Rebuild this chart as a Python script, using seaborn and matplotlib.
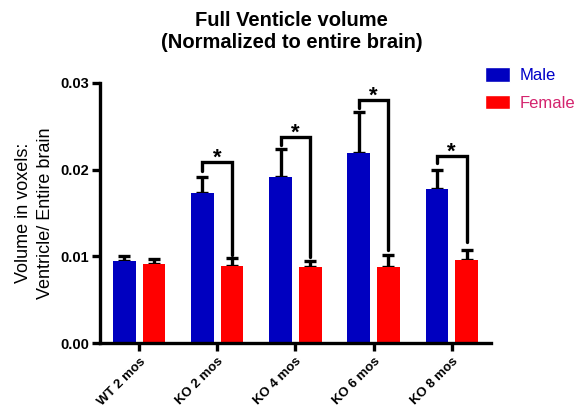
import matplotlib
matplotlib.use("Agg")
import matplotlib.pyplot as plt
import seaborn as sns
import pandas as pd
import numpy as np
from matplotlib.patches import Patch

categories = ["WT 2 mos", "KO 2 mos", "KO 4 mos", "KO 6 mos", "KO 8 mos"]
male_mean = [0.00942, 0.01734, 0.01919, 0.02188, 0.01773]
male_err = [0.00065, 0.00177, 0.00323, 0.00473, 0.00227]
female_mean = [0.00911, 0.00884, 0.00877, 0.00877, 0.00961]
female_err = [0.00058, 0.00096, 0.00065, 0.00142, 0.00112]
# significance brackets (category index, top height, left-leg bottom, right-leg bottom)
sig_idx = [1, 2, 3, 4]
sig_top = [0.02084, 0.02377, 0.02807, 0.02153]
sig_left = [0.0198, 0.02288, 0.02711, 0.02077]
sig_right = [0.01019, 0.00992, 0.01077, 0.01161]
yticks = [0.00, 0.01, 0.02, 0.03]

sns.set_style("ticks", {"axes.edgecolor": "black", "text.color": "black",
                        "axes.labelcolor": "black", "xtick.color": "black",
                        "ytick.color": "black"})
plt.rcParams['font.family'] = ['Liberation Sans', 'DejaVu Sans']

blue = "#0000C0"
red = "#FF0000"

df = pd.DataFrame({
    "cat": categories * 2,
    "sex": ["Male"] * 5 + ["Female"] * 5,
    "val": male_mean + female_mean,
})

fig = plt.figure(figsize=(5.83, 4.08), dpi=100)
ax = fig.add_axes([0.1715, 0.1593, 0.8420 - 0.1715, 0.7966 - 0.1593])

sns.barplot(data=df, x="cat", y="val", hue="sex", order=categories,
            hue_order=["Male", "Female"], palette=[blue, red], saturation=1,
            errorbar=None, width=0.76, gap=0.24, ax=ax, legend=False,
            edgecolor="none", zorder=2)

male_bars = ax.containers[0]
female_bars = ax.containers[1]
mx = [p.get_x() + p.get_width() / 2 for p in male_bars]
fx = [p.get_x() + p.get_width() / 2 for p in female_bars]

ax.errorbar(mx, male_mean, yerr=[np.zeros(5), male_err], fmt="none",
            ecolor="black", elinewidth=2.4, capsize=4, capthick=2.4, zorder=1)
ax.errorbar(fx, female_mean, yerr=[np.zeros(5), female_err], fmt="none",
            ecolor="black", elinewidth=2.4, capsize=4, capthick=2.4, zorder=1)

for i, top, lb, rb in zip(sig_idx, sig_top, sig_left, sig_right):
    ax.plot([mx[i], mx[i], fx[i], fx[i]], [lb, top, top, rb], color="black",
            lw=2.4, solid_joinstyle="miter", zorder=3, clip_on=False)
    ax.text((mx[i] + fx[i]) / 2, top - 0.0002, "*", ha="center", va="baseline",
            fontsize=16, fontweight="bold", color="black")

ax.set_xlim(-0.5, 4.5)
ax.set_ylim(0, 0.03)
ax.set_yticks(yticks)
ax.set_yticklabels([f"{v:.2f}" for v in yticks], fontsize=10.5, fontweight="bold")
ax.set_xticks(range(5))
ax.set_xticklabels(categories, rotation=45, ha="right", rotation_mode="anchor",
                   fontsize=9.5, fontweight="bold")
ax.set_xlabel("")
ax.set_ylabel("Volume in voxels:\nVentricle/ Entire brain", fontsize=13, labelpad=4,
              linespacing=1.4, color="black")
for s in ["left", "bottom"]:
    ax.spines[s].set_linewidth(2.4)
    ax.spines[s].set_color("black")
sns.despine(ax=ax)
ax.tick_params(axis="both", width=2.4, length=6, direction="out", color="black",
               labelcolor="black")
ax.tick_params(axis="x", pad=3)
ax.tick_params(axis="y", pad=2)

fig.suptitle("Full Venticle volume\n(Normalized to entire brain)", x=0.5, y=0.972,
             fontsize=14.5, fontweight="bold", linespacing=1.15, color="black")

handles = [Patch(facecolor=blue), Patch(facecolor=red)]
leg = fig.legend(handles, ["Male", "Female"], loc="center left",
                 bbox_to_anchor=(485 / 583, 1 - 89 / 408), frameon=False, fontsize=12,
                 handlelength=1.5, handleheight=0.95, labelspacing=0.68,
                 handletextpad=0.6, borderpad=0, borderaxespad=0)
leg.get_texts()[0].set_color("#0000C8")
leg.get_texts()[1].set_color("#D4246E")

fig.savefig("out.png", dpi=100)
